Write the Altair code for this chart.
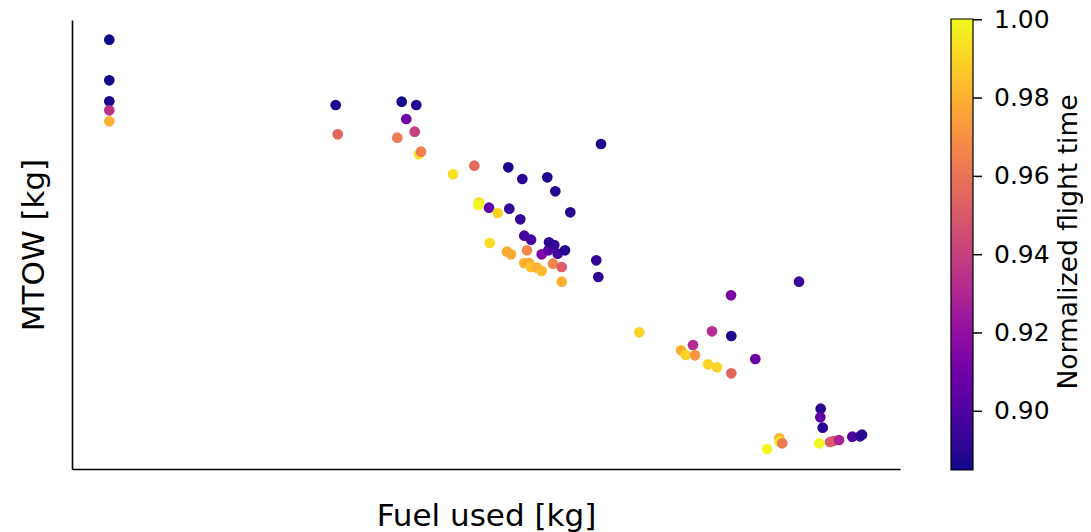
import altair as alt
import pandas as pd

# values (arbitrary units: no tick labels in the reference)
fuel = [37.3, 37.3, 37.3, 37.3, 37.3, 263.7, 265.7, 329.7, 344.3, 334.3,
        342.7, 325.3, 347.0, 349.0, 381.0, 402.3, 436.3, 450.3, 475.3, 483.3,
        529.0, 498.3, 407.0, 406.3, 417.0, 425.7, 437.3, 448.3, 452.3, 459.0,
        417.7, 435.0, 439.0, 455.0, 469.7, 476.3, 477.0, 482.3, 485.7, 493.0,
        452.3, 457.0, 459.0, 465.0, 469.7, 481.0, 489.7, 489.7, 524.3, 526.3,
        567.3, 659.0, 727.0, 640.0, 659.3, 621.0, 609.0, 613.7, 623.0, 636.0,
        645.0, 659.3, 683.3, 748.7, 748.3, 750.7, 707.3, 707.7, 710.3, 695.0,
        747.3, 758.0, 761.3, 767.0, 780.3, 788.0, 790.0]
mtow = [429.3, 388.7, 367.7, 358.7, 347.7, 364.0, 334.7, 367.3, 364.0, 350.0,
        337.3, 331.3, 314.7, 317.3, 294.7, 303.3, 301.7, 290.0, 291.7, 277.7,
        325.0, 256.7, 266.7, 264.0, 261.3, 256.0, 260.3, 249.7, 233.3, 229.3,
        226.0, 217.3, 214.7, 218.7, 214.7, 218.7, 226.7, 224.0, 215.3, 218.7,
        206.0, 206.0, 202.0, 201.3, 198.0, 205.3, 202.0, 187.3, 208.7, 192.0,
        136.7, 173.7, 187.3, 137.7, 133.0, 124.0, 118.7, 114.0, 113.7, 104.7,
        101.7, 95.7, 110.0, 60.3, 51.7, 41.3, 30.7, 27.3, 25.7, 20.0,
        25.7, 27.0, 28.0, 29.0, 32.3, 32.7, 34.3]
flight_time = [0.885, 0.886, 0.887, 0.935, 0.980, 0.887, 0.955, 0.886, 0.889, 0.910,
               0.940, 0.962, 0.995, 0.964, 0.993, 0.957, 0.887, 0.891, 0.888, 0.889,
               0.888, 0.889, 0.995, 1.000, 0.905, 0.990, 0.893, 0.893, 0.897, 0.898,
               0.993, 0.978, 0.978, 0.967, 0.915, 0.903, 0.891, 0.893, 0.897, 0.889,
               0.980, 0.978, 0.985, 0.980, 0.983, 0.966, 0.952, 0.980, 0.892, 0.892,
               0.990, 0.913, 0.894, 0.932, 0.888, 0.932, 0.980, 0.990, 0.972, 0.990,
               0.990, 0.955, 0.908, 0.890, 0.905, 0.890, 0.980, 0.995, 0.962, 1.000,
               1.000, 0.952, 0.950, 0.928, 0.900, 0.893, 0.890]
cbar_ticks = [0.90, 0.92, 0.94, 0.96, 0.98, 1.00]
cbar_domain = [0.885, 1.0002]
x_title = "Fuel used [kg]"
y_title = "MTOW [kg]"
c_title = "Normalized flight time"

df = pd.DataFrame({"fuel": fuel, "mtow": mtow, "t": flight_time})
FONT = "DejaVu Sans"

points = alt.Chart(df).mark_circle(size=115, opacity=1, strokeWidth=0).encode(
    x=alt.X("fuel:Q", scale=alt.Scale(domain=[0, 828], nice=False, zero=False),
            axis=alt.Axis(title=x_title, titleY=56, titleBaseline="alphabetic")),
    y=alt.Y("mtow:Q", scale=alt.Scale(domain=[0, 449], nice=False, zero=False),
            axis=alt.Axis(title=y_title, titleX=-29, titleBaseline="alphabetic")),
    color=alt.Color("t:Q",
                    scale=alt.Scale(scheme="plasma", domain=cbar_domain, nice=False),
                    legend=alt.Legend(title=None, orient="none", legendX=879, legendY=-1,
                                      direction="vertical", gradientLength=451,
                                      gradientThickness=22, values=cbar_ticks,
                                      format=".2f", labelFontSize=25, labelFont=FONT,
                                      labelColor="black", labelOffset=21,
                                      labelBaseline="middle", labelOverlap=False,
                                      gradientStrokeColor="black", gradientStrokeWidth=1.2,
                                      padding=0)),
)

# colorbar tick marks, positioned by a scale matching the gradient
cticks = alt.Chart(pd.DataFrame({"v": cbar_ticks})).mark_rule(
    color="black", strokeWidth=1.5
).encode(
    y=alt.Y("v:Q", scale=alt.Scale(domain=cbar_domain, range=[450, -1], nice=False, zero=False),
            axis=None),
    x=alt.value(901), x2=alt.value(910),
)

ctitle = alt.Chart(pd.DataFrame({"s": [c_title]})).mark_text(
    angle=270, align="center", baseline="alphabetic", font=FONT, fontSize=26.5, color="black"
).encode(x=alt.value(1005), y=alt.value(222), text="s:N")

chart = alt.layer(points, cticks, ctitle).resolve_scale(y="independent").properties(
    width=828, height=449,
    autosize=alt.AutoSizeParams(type="none"),
    padding={"left": 64, "top": 12, "right": 183, "bottom": 63},
).configure_view(stroke=None).configure_axis(
    domain=True, domainColor="black", domainWidth=1.6, ticks=False, labels=False,
    grid=False, titleFont=FONT, titleFontSize=31, titleFontWeight="normal",
    titleColor="black",
)

chart.save("out.html", embed_options={"renderer": "svg", "actions": False})
